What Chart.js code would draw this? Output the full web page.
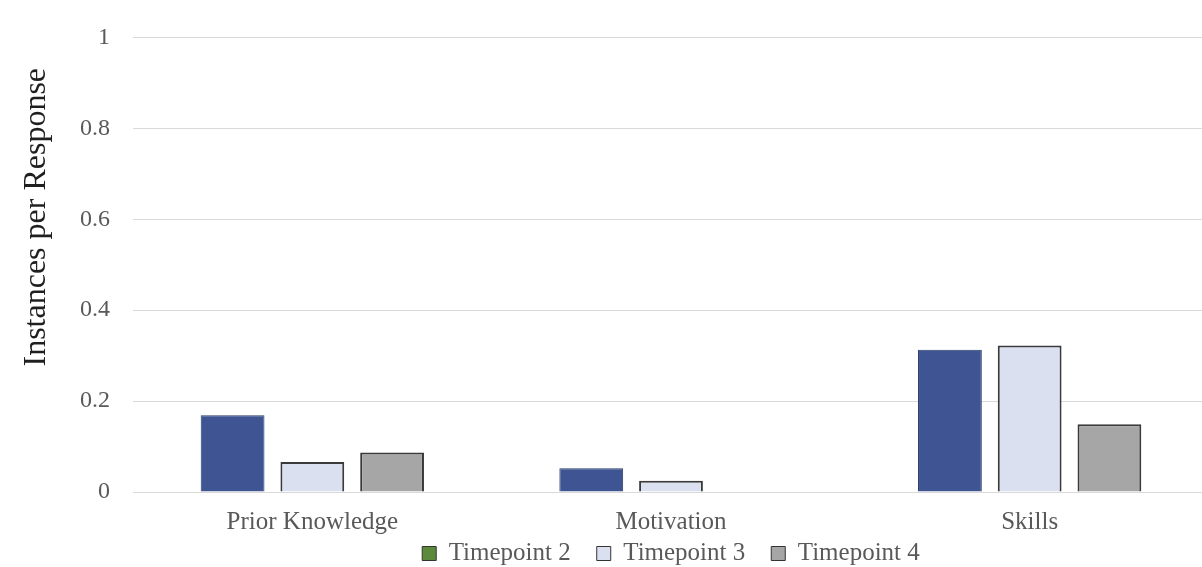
<!DOCTYPE html>
<html>
<head>
<meta charset="utf-8">
<script src="https://cdn.jsdelivr.net/npm/chart.js@4.4.1/dist/chart.umd.min.js"></script>
<style>
    html, body { margin: 0; padding: 0; background: #fff; overflow: hidden; }
    #wrap { position: relative; width: 1216px; height: 576px; }
</style>
</head>
<body>
<div id="wrap"><canvas id="codes-chart"></canvas></div>
<script>
const CATEGORIES   = ['Prior Knowledge', 'Motivation', 'Skills'];
const SERIES_NAMES = ['Timepoint 2', 'Timepoint 3', 'Timepoint 4'];
const TIMEPOINT_2  = [0.169, 0.052, 0.313];
const TIMEPOINT_3  = [0.066, 0.025, 0.322];
const TIMEPOINT_4  = [0.087, 0,     0.149];
const Y_TICKS      = ['0', '0.2', '0.4', '0.6', '0.8', '1'];
const Y_TITLE      = 'Instances per Response';

const FONT       = "'Liberation Serif', 'Times New Roman', serif";
const TEXT_GREY  = '#595959';
const GRID_GREY  = '#d9d9d9';

// legend swatch fills (the first one is green in the key, not blue)
const LEGEND_FILL = ['#5b8a3d', '#dae0f0', '#a6a6a6'];

function mkDataset(label, values, fill, border, width) {
    return {
        label,
        data: values,
        backgroundColor: fill,
        borderColor: border,
        borderWidth: width,
        borderSkipped: 'start',
        categoryPercentage: 0.667,
        barPercentage: 0.8,
    };
}

// y title sits a little above the middle of the axis, level with 0.6
const yTitlePlugin = {
    id: 'yTitle',
    afterDraw(chart) {
        const { ctx, scales: { y } } = chart;
        ctx.save();
        ctx.translate(37, y.getPixelForValue(0.6) - 2);
        ctx.rotate(-Math.PI / 2);
        ctx.font = `32px ${FONT}`;
        ctx.fillStyle = '#1f1f1f';
        ctx.textAlign = 'center';
        ctx.textBaseline = 'middle';
        ctx.fillText(Y_TITLE, 0, 0);
        ctx.restore();
    },
};

// the x band is kept short for the legend, so widen its label clip afterwards
const xLabelRoom = {
    id: 'xLabelRoom',
    afterLayout(chart) {
        chart.scales.x.bottom += 30;
    },
};

const canvasCtx = document.getElementById('codes-chart').getContext('2d');

new Chart(canvasCtx, {
    type: 'bar',
    data: {
        labels: CATEGORIES,
        datasets: [
            mkDataset(SERIES_NAMES[0], TIMEPOINT_2, '#3f5493', '#2c3b68', 1),
            mkDataset(SERIES_NAMES[1], TIMEPOINT_3, '#dae0f0', '#3a3a3a', 2),
            mkDataset(SERIES_NAMES[2], TIMEPOINT_4, '#a6a6a6', '#3a3a3a', 2),
        ],
    },
    options: {
        responsive: true,
        maintainAspectRatio: false,
        animation: false,
        layout: { padding: { left: 57, right: 7, top: 36, bottom: 0 } },
        plugins: {
            tooltip: { enabled: false },
            legend: {
                position: 'bottom',
                fullSize: false,
                labels: {
                    color: TEXT_GREY,
                    font: { family: FONT, size: 25 },
                    boxWidth: 14,
                    boxHeight: 14,
                    padding: 26,
                    generateLabels: chart =>
                        Chart.defaults.plugins.legend.labels.generateLabels(chart).map((item, i) => ({
                            ...item,
                            fillStyle: LEGEND_FILL[i],
                            strokeStyle: '#333',
                            lineWidth: 1,
                        })),
                },
            },
        },
        scales: {
            x: {
                grid: { display: false, drawTicks: false },
                border: { display: false },
                ticks: {
                    color: TEXT_GREY,
                    font: { family: FONT, size: 25, lineHeight: 0.4 },
                    padding: 25,
                },
                // keep the label band short so the legend sits close underneath
                afterFit: scale => { scale.height = 23; },
            },
            y: {
                min: 0,
                max: 1,
                grid: { color: GRID_GREY, lineWidth: 1, drawTicks: false },
                border: { display: false },
                ticks: {
                    stepSize: 0.2,
                    color: TEXT_GREY,
                    font: { family: FONT, size: 24 },
                    padding: 23,
                    callback: (v, i) => Y_TICKS[i],
                },
            },
        },
    },
    plugins: [yTitlePlugin, xLabelRoom],
});
</script>
</body>
</html>
